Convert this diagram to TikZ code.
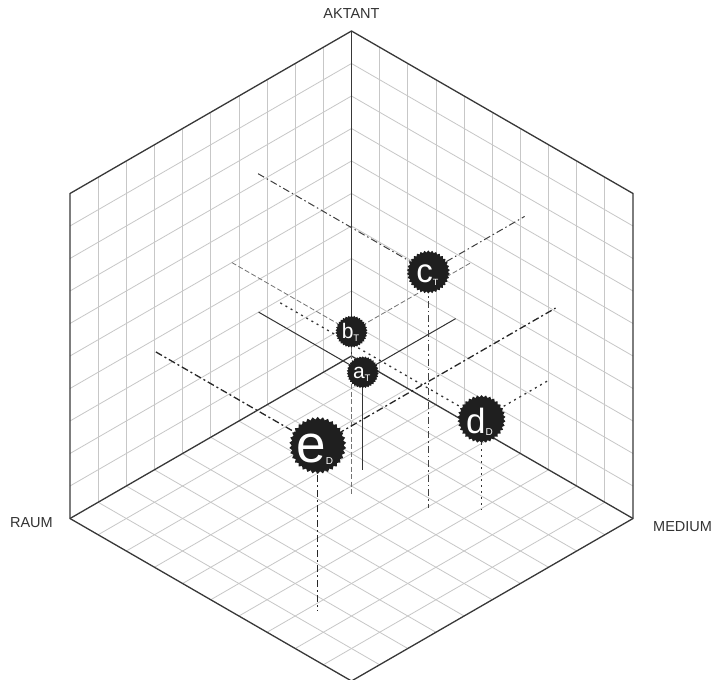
\documentclass[tikz,border=0pt]{standalone}
\usepackage{fontspec}
\setmainfont{Liberation Sans}
\usetikzlibrary{shapes.geometric, positioning, calc}

\newcommand{\pointname}[4]{\fontsize{#1}{#1}\selectfont #2\raisebox{-2.5pt}{\fontsize{#3}{#3}\selectfont #4}}

\begin{document}
\begin{tikzpicture}[
    x=1pt, y=1pt,
    iso/.style={shift={(351.5,-356)}, x={(-28.15pt,-16.25pt)}, y={(28.15pt,-16.25pt)}, z={(0pt,32.5pt)}},
    gridline/.style={draw=black!22, line width=0.8pt},
    cubeedge/.style={draw=black!78, line width=1.3pt, line join=round},
    axislabel/.style={font=\fontsize{14.5}{16}\selectfont, text=black!80, inner sep=0pt},
    blob/.style={star, star points=34, star point ratio=1.1, fill=black!88, inner sep=0pt},
    blobtext/.style={text=white, inner sep=0pt},
    traceA/.style={draw=black!80, line width=1pt},
    traceB/.style={draw=black!55, line width=0.8pt, dash pattern=on 5pt off 2.5pt},
    traceC/.style={draw=black!75, line width=1pt, dash pattern=on 7pt off 3pt on 1.5pt off 3pt},
    traceD/.style={draw=black!80, line width=1.3pt, dash pattern=on 2pt off 4pt},
    traceE/.style={draw=black!85, line width=1.3pt, dash pattern=on 7pt off 3pt on 2pt off 3pt}
]
\fill[white] (0,0) rectangle (718,-680);
\useasboundingbox (0,0) rectangle (718,-680);

\begin{scope}[iso]
\foreach \i in {1,...,9} {
    \draw[gridline] (\i,0,0) -- (\i,0,10);
    \draw[gridline] (0,0,\i) -- (10,0,\i);
    \draw[gridline] (0,\i,0) -- (0,\i,10);
    \draw[gridline] (0,0,\i) -- (0,10,\i);
    \draw[gridline] (\i,0,0) -- (\i,10,0);
    \draw[gridline] (0,\i,0) -- (10,\i,0);
}

\coordinate (origin) at (0,0,0);
\coordinate (top) at (0,0,10);
\coordinate (raum) at (10,0,0);
\coordinate (medium) at (0,10,0);

\draw[cubeedge] (raum) -- (10,0,10) -- (top) -- (0,10,10) -- (medium) -- (10,10,0) -- cycle;
\draw[cubeedge] (raum) -- (origin) -- (medium);
\draw[cubeedge] (origin) -- (top);

\coordinate (pa) at (3.3,3.7,3);
\coordinate (pa-left) at (3.3,0,3);
\coordinate (pa-right) at (0,3.7,3);
\coordinate (pa-floor) at (3.3,3.7,0);

\coordinate (pb) at (4.25,4.25,5);
\coordinate (pb-left) at (4.25,0,5);
\coordinate (pb-right) at (0,4.25,5);
\coordinate (pb-floor) at (4.25,4.25,0);

\coordinate (pc) at (3.32,6.05,7.27);
\coordinate (pc-left) at (3.32,0,7.27);
\coordinate (pc-right) at (-0.1,6.05,7.27);
\coordinate (pc-floor) at (3.32,6.05,0);

\coordinate (pd) at (2.43,7.05,2.8);
\coordinate (pd-left) at (2.43,-0.1,2.8);
\coordinate (pd-right) at (0,7.05,2.8);
\coordinate (pd-floor) at (2.43,7.05,0);

\coordinate (pe) at (8.45,7.25,5.1);
\coordinate (pe-left) at (8.45,1.5,5.1);
\coordinate (pe-right) at (0,7.25,5.1);
\coordinate (pe-floor) at (8.45,7.25,0);

\draw[traceA] (pa-left) -- (pa) -- (pa-right);
\draw[traceA] (pa) -- (pa-floor);
\draw[traceB] (pb-left) -- (pb) -- (pb-right);
\draw[traceB] (pb) -- (pb-floor);
\draw[traceD] (pd-left) -- (pd) -- (pd-right);
\draw[traceD] (pd) -- (pd-floor);
\draw[traceC] (pc-left) -- (pc) -- (pc-right);
\draw[traceC] (pc) -- (pc-floor);
\draw[traceE] (pe-left) -- (pe) -- (pe-right);
\draw[traceE] (pe) -- (pe-floor);
\end{scope}

\node[blob, minimum size=32] (a) at (pa) {};
\node[blob, minimum size=32] (b) at (pb) {};
\node[blob, minimum size=43] (c) at (pc) {};
\node[blob, minimum size=48] (d) at (pd) {};
\node[blob, minimum size=57] (e) at (pe) {};

\node[blobtext] (a text) at ([shift={(-1,-2)}]a.center) {\pointname{21}{a}{9.5}{T}};
\node[blobtext] (b text) at ([shift={(-1,-1)}]b.center) {\pointname{21}{b}{9.5}{T}};
\node[blobtext] (c text) at ([shift={(-1,-3)}]c.center) {\pointname{33}{c}{9}{T}};
\node[blobtext] (d text) at ([shift={(-2,-3)}]d.center) {\pointname{35}{d}{10}{D}};
\node[blobtext] (e text) at ([shift={(-3,-4)}]e.center) {\pointname{53}{e}{10}{D}};

\node[axislabel, above=12.5pt of top] (aktant label) {AKTANT};
\node[axislabel, left=17pt of raum, yshift=-4pt] (raum label) {RAUM};
\node[axislabel, right=20pt of medium, yshift=-8.5pt] (medium label) {MEDIUM};

\end{tikzpicture}
\end{document}
